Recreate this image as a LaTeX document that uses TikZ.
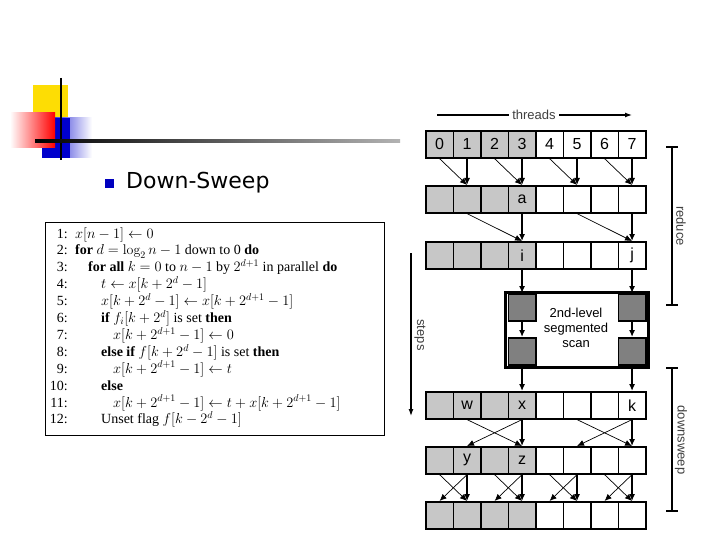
\documentclass[tikz,border=0pt]{standalone}
\usepackage{fontspec}
\newfontfamily\sans{Liberation Sans}
\newfontfamily\tah{DejaVu Sans}
\newfontfamily\ser{Liberation Serif}
\usetikzlibrary{arrows.meta}
\begin{document}
\begin{tikzpicture}[x=1pt,y=-1pt,
  cell/.style={draw,line width=1.6pt,minimum width=27.5pt,minimum height=27pt,inner sep=0,font=\sans\fontsize{16}{16}\selectfont,anchor=north west},
  ar/.style={-{Latex[length=7pt,width=6pt]},line width=1.3pt},
  dg/.style={-{Latex[length=7pt,width=6pt]},line width=0.7pt},
  alg/.style={anchor=base west,inner sep=0,font=\ser\fontsize{14}{14}\selectfont},
  num/.style={anchor=base east,inner sep=0,font=\ser\fontsize{14}{14}\selectfont},
  clab/.style={font=\sans\fontsize{16}{16}\selectfont},
  lab/.style={font=\sans\fontsize{13}{13}\selectfont,text=black!75}]
\useasboundingbox (0,0) rectangle (720,540);
\fill[white] (0,0) rectangle (720,540);
% logo
\fill[yellow!80!orange] (33,85) rectangle (68,118);
\shade[left color=blue!80!black,right color=white] (42,118) rectangle (92,158);
\fill[blue!80!black] (42,118) rectangle (70,158);
\shade[left color=white,right color=red] (10,113) rectangle (55,148);
\draw[line width=1.5pt] (61,78) -- (61,160);
\shade[left color=black,right color=black!30] (35,140) rectangle (400,142.5);
\node[fill=blue!75!black,minimum size=9pt,inner sep=0] (bul) at (109,184) {};
\node[anchor=west,inner sep=0,font=\tah\fontsize{22}{22}\selectfont] (title) at (126,183) {Down-Sweep};
% algorithm
\node[draw,line width=0.8pt,minimum width=339pt,minimum height=213pt,anchor=north west,inner sep=0] (algbox) at (45,222) {};
\foreach \n/\ind/\t [count=\i] in {
 1/75/{$x[n-1]\leftarrow 0$},
 2/75/{\textbf{for} $d=\log_2 n-1$ down to 0 \textbf{do}},
 3/88/{\textbf{for all} $k=0$ to $n-1$ by $2^{d+1}$ in parallel \textbf{do}},
 4/101/{$t\leftarrow x[k+2^d-1]$},
 5/101/{$x[k+2^d-1]\leftarrow x[k+2^{d+1}-1]$},
 6/101/{\textbf{if} $f_i[k+2^d]$ is set \textbf{then}},
 7/113/{$x[k+2^{d+1}-1]\leftarrow 0$},
 8/101/{\textbf{else if} $f[k+2^d-1]$ is set \textbf{then}},
 9/113/{$x[k+2^{d+1}-1]\leftarrow t$},
 10/101/{\textbf{else}},
 11/113/{$x[k+2^{d+1}-1]\leftarrow t+x[k+2^{d+1}-1]$},
 12/101/{Unset flag $f[k-2^d-1]$}}{
 \node[num] (n\n) at (68,{238+(\i-1)*16.9}) {\n:};
 \node[alg] (l\n) at (\ind,{238+(\i-1)*16.9}) {\t};
}
% cells
\foreach \r/\y in {1/130,2/185,3/241,4/391,5/446,6/501}{
 \foreach \c in {0,...,7}{
  \pgfmathsetmacro\xx{425+27.5*\c}
  \ifnum\c<4
   \node[cell,fill=black!22] (r\r c\c) at (\xx,\y) {};
  \else
   \node[cell,fill=white] (r\r c\c) at (\xx,\y) {};
  \fi
 }}
\foreach \c in {0,...,7}{\node[clab] at (r1c\c) {\c};}
\node[clab] at (r2c3) {a};
\node[clab] at (r3c3) {i};
\node[clab] at (r3c7) {j};
\node[clab] at (r4c1) {w};
\node[clab] at (r4c3) {x};
\node[clab] at (r4c7) {k};
\node[clab] at (r5c1) {y};
\node[clab] at (r5c3) {z};
% scan box
\node[draw,line width=2.5pt,fill=white,minimum width=143pt,minimum height=75pt,anchor=north west,inner sep=0] (scan) at (504,291) {};
\node[cell,fill=black!50,minimum height=27pt] (st3) at (507.5,293) {};
\node[cell,fill=black!50,minimum height=27pt] (st7) at (617.5,293) {};
\node[cell,fill=black!50,minimum height=27pt] (sb3) at (507.5,337) {};
\node[cell,fill=black!50,minimum height=27pt] (sb7) at (617.5,337) {};
\node[align=center,font=\sans\fontsize{13}{15}\selectfont] (scant) at (576,328) {2nd-level\\segmented\\scan};
% reduce arrows
\foreach \a/\b in {0/1,2/3,4/5,6/7}{
 \draw[dg] (r1c\a.south) -- (r2c\b.north);
 \draw[ar] (r1c\b.south) -- (r2c\b.north);}
\foreach \a/\b in {1/3,5/7}{
 \draw[dg] (r2c\a.south) -- (r3c\b.north);
 \draw[ar] (r2c\b.south) -- (r3c\b.north);}
\draw[ar] (r3c3.south) -- (st3.north);
\draw[ar] (r3c7.south) -- (st7.north);
\draw[ar] (st3.south) -- (sb3.north);
\draw[ar] (st7.south) -- (sb7.north);
\draw[ar] (scan.south -| sb3) -- (r4c3.north);
\draw[ar] (scan.south -| sb7) -- (r4c7.north);
% downsweep
\foreach \a/\b in {1/3,5/7}{
 \draw[dg] (r4c\a.south) -- (r5c\b.north);
 \draw[dg] (r4c\b.south) -- (r5c\a.north);
 \draw[ar] (r4c\b.south) -- (r5c\b.north);}
\foreach \a/\b in {0/1,2/3,4/5,6/7}{
 \draw[dg] (r5c\a.south) -- (r6c\b.north);
 \draw[dg] (r5c\b.south) -- (r6c\a.north);
 \draw[ar] (r5c\b.south) -- (r6c\b.north);}
% labels
\node[lab] (thr) at (534,115) {threads};
\coordinate (t0) at (437,115);
\coordinate (t1) at (632,115);
\draw[line width=1.2pt] (t0) -- (thr.west);
\draw[line width=1.2pt,-{Latex[length=7pt,width=5pt]}] (thr.east) -- (t1);
\coordinate (s0) at (411,253);
\coordinate (s1) at (411,416);
\draw[line width=1.2pt,-{Latex[length=7pt,width=5pt]}] (s0) -- (s1);
\node[lab,rotate=-90] (stp) at (420,335) {steps};
\coordinate (ra) at (672,147);
\coordinate (rb) at (672,305);
\draw[line width=1.2pt] (ra) -- (rb) (ra)++(-6,0) -- ++(12,0) (rb)++(-6,0) -- ++(12,0);
\node[lab,rotate=-90] (red) at (681,226) {reduce};
\coordinate (da) at (672,368);
\coordinate (db) at (672,511);
\draw[line width=1.2pt] (da) -- (db) (da)++(-6,0) -- ++(12,0) (db)++(-6,0) -- ++(12,0);
\node[lab,rotate=-90] (dsw) at (681,440) {downsweep};
\end{tikzpicture}
\end{document}
